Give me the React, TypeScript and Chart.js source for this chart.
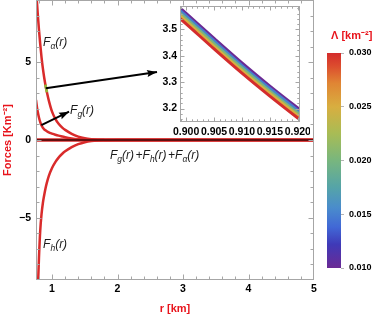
import React, { useEffect, useRef } from 'react';
import { Chart, registerables } from 'chart.js';

Chart.register(...registerables);

// ---------------- data ----------------
const R_KM = [0.755, 0.77, 0.78, 0.8, 0.82, 0.84, 0.86, 0.88, 0.9, 0.92, 0.95, 1.0, 1.05, 1.1, 1.16, 1.2, 1.3, 1.4, 1.5, 1.6, 1.7, 1.8, 2.0, 2.5, 3.0, 4.0, 5.0];
const F_ALPHA = [10.0, 8.85, 8.2, 7.1, 6.15, 5.3, 4.6, 4.02, 3.52, 3.1, 2.55, 1.82, 1.36, 1.04, 0.78, 0.65, 0.4, 0.22, 0.11, 0.05, 0.02, 0.008, 0.001, 0, 0, 0, 0];
const F_G = [2.58, 2.1, 1.85, 1.45, 1.15, 0.93, 0.79, 0.69, 0.62, 0.56, 0.49, 0.41, 0.34, 0.28, 0.22, 0.18, 0.105, 0.055, 0.025, 0.01, 0.004, 0.0015, 0, 0, 0, 0, 0];
const F_H = [-14.5, -11.5, -10.0, -7.6, -5.8, -4.75, -4.05, -3.55, -3.12, -2.76, -2.32, -1.8, -1.42, -1.13, -0.87, -0.73, -0.46, -0.27, -0.14, -0.065, -0.028, -0.011, -0.002, 0, 0, 0, 0];
const ZERO_R = [0.755, 5.0];
const ZERO_F = [0, 0];

const X_TICKS = [1, 2, 3, 4, 5];
const Y_TICKS = [-5, 0, 5];

// highlighted (zoomed) segment and arrows
const MARK_R = [0.898, 0.922];
const MARK_F = [3.56, 3.07];
const ARROW1_R = [0.904, 2.603];
const ARROW1_F = [3.32, 4.37];
const ARROW2_R = [0.837, 1.26];
const ARROW2_F = [0.96, 1.82];

// labels
const LABEL_R = [0.863, 1.275, 0.863, 1.885];
const LABEL_F = [6.32, 1.93, -6.65, -0.96];

// inset: several Lambda values
const LAMBDAS = [0.010, 0.015, 0.020, 0.025, 0.030];
const INSET_R = [0.898, 0.9, 0.905, 0.91, 0.915, 0.92, 0.921];
const INSET_F_L010 = [3.598, 3.561, 3.466, 3.373, 3.285, 3.202, 3.186];
const INSET_F_L015 = [3.588, 3.551, 3.456, 3.363, 3.276, 3.193, 3.177];
const INSET_F_L020 = [3.578, 3.541, 3.446, 3.354, 3.266, 3.183, 3.167];
const INSET_F_L025 = [3.568, 3.531, 3.436, 3.344, 3.257, 3.174, 3.158];
const INSET_F_L030 = [3.558, 3.521, 3.426, 3.334, 3.247, 3.164, 3.148];
const INSET_SERIES = [INSET_F_L010, INSET_F_L015, INSET_F_L020, INSET_F_L025, INSET_F_L030];
const INSET_X_TICKS = [0.9, 0.905, 0.91, 0.915, 0.92];
const INSET_Y_TICKS = [3.2, 3.3, 3.4, 3.5];

// colour bar
const BAR_MIN = 0.010;
const BAR_MAX = 0.030;
const BAR_TICKS = [0.010, 0.015, 0.020, 0.025, 0.030];

// ---------------- styles ----------------
const FONT = '"Liberation Sans", Arial, Helvetica, sans-serif';
const RED_CURVE = '#d92b2b';
const RED_TEXT = '#e8141c';
const FRAME = '#a6a6a6';

const STOPS: [number, string][] = [
  [0, '#6b2a94'], [0.11, '#3f3ab8'], [0.19, '#4168d6'], [0.28, '#4a8ccc'], [0.375, '#55a4a8'],
  [0.5, '#78b67e'], [0.625, '#a8bc55'], [0.75, '#d8ae40'], [0.86, '#e08534'], [0.94, '#dc4c2e'], [1, '#d42c2c'],
];
function hexToRgb(h: string) {
  const n = parseInt(h.slice(1), 16);
  return [(n >> 16) & 255, (n >> 8) & 255, n & 255];
}
function colorAt(t: number) {
  for (let i = 0; i < STOPS.length - 1; i++) {
    const [t0, c0] = STOPS[i];
    const [t1, c1] = STOPS[i + 1];
    if (t <= t1) {
      const f = (t - t0) / (t1 - t0);
      const a = hexToRgb(c0), b = hexToRgb(c1);
      const m = a.map((v, k) => Math.round(v + (b[k] - v) * f));
      return `rgb(${m[0]},${m[1]},${m[2]})`;
    }
  }
  return STOPS[STOPS.length - 1][1];
}

const pts = (xs: number[], ys: number[]) => xs.map((x, i) => ({ x, y: ys[i] }));
const fmtSigned = (v: number) => (v < 0 ? '\u2212' + Math.abs(v) : String(v));

function rangeTicks(from: number, to: number, step: number, skip: number[]) {
  const out: number[] = [];
  const n = Math.round((to - from) / step);
  for (let i = 0; i <= n; i++) {
    const v = +(from + i * step).toFixed(6);
    if (!skip.some((s) => Math.abs(s - v) < step / 10)) out.push(v);
  }
  return out;
}

// ---------------- plugins ----------------
const frameTicksPlugin = {
  id: 'frameTicks',
  afterDatasetsDraw(chart: any, _args: any, opts: any) {
    if (!opts || !opts.xMajor) return;
    const { ctx, chartArea: a } = chart;
    const xs = chart.scales.x, ys = chart.scales.y;
    const L = Math.round(a.left) + 0.5, R = Math.round(a.right) - 0.5;
    const T = Math.round(a.top) + 0.5, B = Math.round(a.bottom) - 0.5;
    ctx.save();
    ctx.strokeStyle = opts.color;
    ctx.lineWidth = 1;
    ctx.beginPath();
    const xt = (vals: number[], len: number) => vals.forEach((v) => {
      const p = Math.round(xs.getPixelForValue(v)) + 0.5;
      if (p < a.left || p > a.right) return;
      ctx.moveTo(p, B); ctx.lineTo(p, B - len);
      ctx.moveTo(p, T); ctx.lineTo(p, T + len);
    });
    const yt = (vals: number[], len: number) => vals.forEach((v) => {
      const p = Math.round(ys.getPixelForValue(v)) + 0.5;
      if (p < a.top || p > a.bottom) return;
      ctx.moveTo(L, p); ctx.lineTo(L + len, p);
      ctx.moveTo(R, p); ctx.lineTo(R - len, p);
    });
    xt(opts.xMajor, opts.major); xt(opts.xMinor, opts.minor);
    yt(opts.yMajor, opts.major); yt(opts.yMinor, opts.minor);
    ctx.stroke();
    ctx.strokeRect(L, T, R - L, B - T);
    ctx.restore();
  },
};

const arrowPlugin = {
  id: 'arrowHeads',
  afterDatasetsDraw(chart: any) {
    const { ctx } = chart;
    chart.data.datasets.forEach((ds: any, i: number) => {
      if (!ds.arrowHead) return;
      const d = chart.getDatasetMeta(i).data;
      const p0 = d[d.length - 2], p1 = d[d.length - 1];
      const ang = Math.atan2(p1.y - p0.y, p1.x - p0.x);
      ctx.save();
      ctx.translate(p1.x, p1.y);
      ctx.rotate(ang);
      ctx.fillStyle = ds.borderColor;
      ctx.beginPath();
      ctx.moveTo(0, 0);
      ctx.lineTo(-10, -3.6);
      ctx.lineTo(-8.5, 0);
      ctx.lineTo(-10, 3.6);
      ctx.closePath();
      ctx.fill();
      ctx.restore();
    });
  },
};

const mathLabelPlugin = {
  id: 'mathLabels',
  afterDatasetsDraw(chart: any, _args: any, opts: any) {
    if (!opts || !opts.items) return;
    const { ctx } = chart;
    const xs = chart.scales.x, ys = chart.scales.y;
    ctx.save();
    ctx.fillStyle = opts.color;
    ctx.textAlign = 'left';
    ctx.textBaseline = 'alphabetic';
    opts.items.forEach((item: any) => {
      let px = xs.getPixelForValue(item.x);
      const py = ys.getPixelForValue(item.y) + opts.baselineShift;
      item.parts.forEach(([t, kind]: [string, string]) => {
        if (kind === 's') {
          ctx.font = `italic ${opts.subSize}px ${FONT}`;
          ctx.fillText(t, px, py + opts.subDrop);
        } else {
          ctx.font = `italic ${opts.size}px ${FONT}`;
          ctx.fillText(t, px, py);
        }
        px += ctx.measureText(t).width + (kind === 'g' ? 1.5 : 0);
      });
    });
    ctx.restore();
  },
};

const whiteAreaPlugin = {
  id: 'whiteArea',
  beforeDraw(chart: any) {
    const { ctx, chartArea: a } = chart;
    ctx.save();
    ctx.fillStyle = '#ffffff';
    ctx.fillRect(a.left, a.top, a.right - a.left, a.bottom - a.top);
    ctx.restore();
  },
};

const cbTitlePlugin = {
  id: 'cbTitle',
  afterDraw(chart: any, _args: any, opts: any) {
    if (!opts || !opts.text) return;
    const { ctx } = chart;
    ctx.save();
    ctx.font = `bold 11px ${FONT}`;
    ctx.fillStyle = RED_TEXT;
    ctx.textAlign = 'center';
    ctx.textBaseline = 'middle';
    ctx.fillText(opts.text, opts.x, opts.y);
    ctx.restore();
  },
};

const zeroPad = (s: any) => { s.paddingTop = 0; s.paddingBottom = 0; s.paddingLeft = 0; s.paddingRight = 0; };

export default function App() {
  const mainRef = useRef<HTMLCanvasElement>(null);
  const insetRef = useRef<HTMLCanvasElement>(null);
  const barRef = useRef<HTMLCanvasElement>(null);

  useEffect(() => {
    const line = (data: any, color: string, width: number, order: number, extra: any = {}) => ({
      data, showLine: true, borderColor: color, backgroundColor: color, borderWidth: width,
      pointRadius: 0, cubicInterpolationMode: 'monotone', order, ...extra,
    });

    const F = (sub: string) => [['F', 'n'], [sub, 's'], ['(r)', 'n']];
    const main = new Chart(mainRef.current!, {
      type: 'scatter',
      data: {
        datasets: [
          line(pts(R_KM, F_ALPHA), RED_CURVE, 2.5, 5),
          line(pts(R_KM, F_G), RED_CURVE, 2.5, 5),
          line(pts(R_KM, F_H), RED_CURVE, 2.5, 5),
          line(pts(ZERO_R, ZERO_F), RED_CURVE, 3.5, 4),
          line(pts(ZERO_R, ZERO_F), '#3a0808', 1.5, 3),
          line(pts(MARK_R, MARK_F), '#94b83a', 2.6, 2),
          line(pts(ARROW1_R, ARROW1_F), '#000000', 2, 1, { arrowHead: true, cubicInterpolationMode: 'default' }),
          line(pts(ARROW2_R, ARROW2_F), '#000000', 2, 1, { arrowHead: true, cubicInterpolationMode: 'default' }),
        ],
      },
      options: {
        responsive: false,
        animation: false,
        layout: { padding: { left: 0, right: 59, top: 0, bottom: 0 } },
        plugins: {
          legend: { display: false },
          tooltip: { enabled: false },
          frameTicks: {
            color: FRAME, major: 5, minor: 3,
            xMajor: X_TICKS, xMinor: rangeTicks(0.8, 4.8, 0.2, X_TICKS),
            yMajor: Y_TICKS, yMinor: rangeTicks(-9, 9, 1, Y_TICKS),
          },
          mathLabels: {
            color: '#1a1a1a', size: 12, subSize: 8.5, subDrop: 3, baselineShift: 4.3,
            items: [
              { x: LABEL_R[0], y: LABEL_F[0], parts: F('α') },
              { x: LABEL_R[1], y: LABEL_F[1], parts: F('g') },
              { x: LABEL_R[2], y: LABEL_F[2], parts: F('h') },
              { x: LABEL_R[3], y: LABEL_F[3], parts: [...F('g').slice(0, 2), ['(r)', 'g'], ['+', 'n'], ...F('h').slice(0, 2), ['(r)', 'g'], ['+', 'n'], ...F('α')] },
            ],
          },
        } as any,
        scales: {
          x: {
            type: 'linear', min: 0.755, max: 5,
            afterBuildTicks: (s: any) => { s.ticks = X_TICKS.map((v) => ({ value: v })); },
            afterFit: (s: any) => { s.height = 35; zeroPad(s); },
            grid: { display: false, drawTicks: false },
            border: { display: false },
            ticks: { color: '#000', padding: 3, maxRotation: 0, autoSkip: false, font: { family: FONT, size: 10.5, weight: 'bold' }, callback: (v: any) => fmtSigned(v) },
            title: { display: true, text: 'r [km]', color: RED_TEXT, font: { family: FONT, size: 11, weight: 'bold', lineHeight: 1 }, padding: { top: 0, bottom: 0.5 } },
          },
          y: {
            type: 'linear', min: -9, max: 9,
            afterBuildTicks: (s: any) => { s.ticks = Y_TICKS.map((v) => ({ value: v })); },
            afterFit: (s: any) => { s.width = 36; zeroPad(s); },
            grid: { display: false, drawTicks: false },
            border: { display: false },
            ticks: { color: '#000', padding: 5, autoSkip: false, font: { family: FONT, size: 10.5, weight: 'bold' }, callback: (v: any) => fmtSigned(v) },
            title: { display: true, text: 'Forces [Km⁻²]', color: RED_TEXT, font: { family: FONT, size: 11, weight: 'bold', lineHeight: 1.2 }, padding: { top: 1.4, bottom: 0 } },
          },
        },
      } as any,
      plugins: [frameTicksPlugin, arrowPlugin, mathLabelPlugin] as any,
    });

    const inset = new Chart(insetRef.current!, {
      type: 'scatter',
      data: {
        datasets: LAMBDAS.map((lam, i) => line(
          pts(INSET_R, INSET_SERIES[i]),
          colorAt((lam - BAR_MIN) / (BAR_MAX - BAR_MIN)), 3, LAMBDAS.length - i,
          { cubicInterpolationMode: 'monotone' },
        )),
      },
      options: {
        responsive: false,
        animation: false,
        layout: { padding: { left: 0, right: 10, top: 6, bottom: 0 } },
        plugins: {
          legend: { display: false },
          tooltip: { enabled: false },
          frameTicks: {
            color: FRAME, major: 4, minor: 2.2,
            xMajor: INSET_X_TICKS, xMinor: rangeTicks(0.898, 0.921, 0.001, INSET_X_TICKS),
            yMajor: INSET_Y_TICKS, yMinor: rangeTicks(3.14, 3.58, 0.02, INSET_Y_TICKS),
          },
        } as any,
        scales: {
          x: {
            type: 'linear', min: 0.8989, max: 0.9204,
            afterBuildTicks: (s: any) => { s.ticks = INSET_X_TICKS.map((v) => ({ value: v })); },
            afterFit: (s: any) => { s.height = 23; zeroPad(s); },
            grid: { display: false, drawTicks: false },
            border: { display: false },
            ticks: { color: '#000', padding: 4, maxRotation: 0, autoSkip: false, font: { family: FONT, size: 10.5, weight: 'bold' }, callback: (v: any) => Number(v).toFixed(3) },
          },
          y: {
            type: 'linear', min: 3.149, max: 3.5886,
            afterBuildTicks: (s: any) => { s.ticks = INSET_Y_TICKS.map((v) => ({ value: v })); },
            afterFit: (s: any) => { s.width = 30; zeroPad(s); },
            grid: { display: false, drawTicks: false },
            border: { display: false },
            ticks: { color: '#000', padding: 3, autoSkip: false, font: { family: FONT, size: 10.5, weight: 'bold' }, callback: (v: any) => Number(v).toFixed(1) },
          },
        },
      } as any,
      plugins: [whiteAreaPlugin, frameTicksPlugin] as any,
    });

    const bar = new Chart(barRef.current!, {
      type: 'bar',
      data: {
        labels: ['Λ'],
        datasets: [{
          data: [[BAR_MIN, BAR_MAX]],
          borderWidth: 0,
          barPercentage: 1,
          categoryPercentage: 1,
          backgroundColor: (c: any) => {
            const ch = c.chart;
            const ys = ch.scales && ch.scales.y;
            if (!ys) return STOPS[5][1];
            const y0 = ys.getPixelForValue(BAR_MIN);
            const y1 = ys.getPixelForValue(BAR_MAX);
            if (!isFinite(y0) || !isFinite(y1) || y0 === y1) return STOPS[5][1];
            const g = ch.ctx.createLinearGradient(0, y0, 0, y1);
            STOPS.forEach(([t, col]) => g.addColorStop(t, col));
            return g;
          },
        }],
      },
      options: {
        responsive: false,
        animation: false,
        layout: { padding: { left: 27, right: 0, top: 53, bottom: 47 } },
        plugins: {
          legend: { display: false },
          tooltip: { enabled: false },
          cbTitle: { text: 'Λ [km⁻²]', x: 51.7, y: 35.5 },
        } as any,
        scales: {
          x: { display: false },
          y: {
            position: 'right', min: BAR_MIN, max: BAR_MAX,
            afterBuildTicks: (s: any) => { s.ticks = BAR_TICKS.map((v) => ({ value: v })); },
            afterFit: (s: any) => { s.width = 32; zeroPad(s); },
            grid: { drawOnChartArea: false, drawTicks: true, tickLength: 3, color: '#b5b5b5' },
            border: { display: false },
            ticks: { color: '#000', padding: 5, autoSkip: false, font: { family: FONT, size: 9, weight: 'bold' }, callback: (v: any) => Number(v).toFixed(3) },
          },
        },
      } as any,
      plugins: [cbTitlePlugin] as any,
    });
    bar.update();

    return () => { main.destroy(); inset.destroy(); bar.destroy(); };
  }, []);

  const abs = (left: number, top: number, w: number, h: number): React.CSSProperties => ({
    position: 'absolute', left, top, width: w, height: h,
  });

  return (
    <div style={{ position: 'fixed', left: 0, top: 0, width: 373, height: 315, background: '#fff' }}>
      <canvas ref={mainRef} width={373} height={315} style={abs(0, 0, 373, 315)} />
      <canvas ref={insetRef} width={160} height={145} style={abs(150, 0, 160, 145)} />
      <canvas ref={barRef} width={73} height={315} style={abs(300, 0, 73, 315)} />
    </div>
  );
}
